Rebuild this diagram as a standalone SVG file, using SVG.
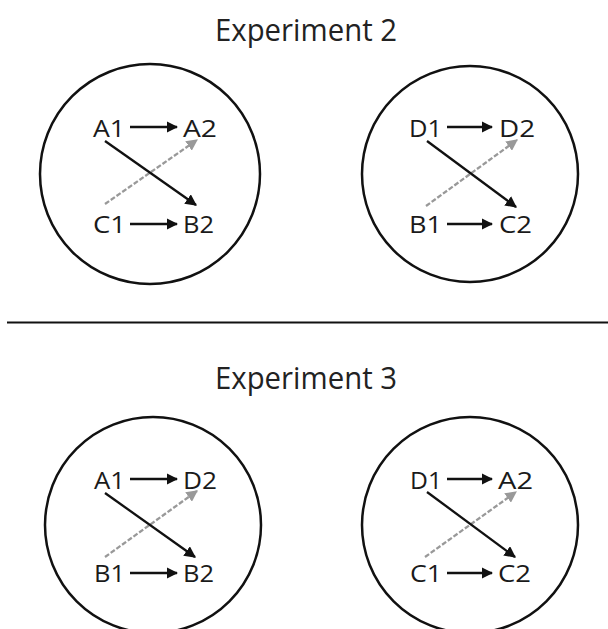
<svg xmlns="http://www.w3.org/2000/svg" width="608" height="629" viewBox="0 0 608 629">
<style>
.title{font-family:"Open Sans","Liberation Sans",sans-serif;font-size:31px;fill:#222}
.lbl{font-family:"Open Sans","Liberation Sans",sans-serif;font-size:24px;fill:#1a1a1a}
.ring{fill:none;stroke:#111;stroke-width:2.5}
.solid{stroke:#111;stroke-width:2.3;fill:none;marker-end:url(#ah)}
.dash{stroke:#999;stroke-width:2.3;stroke-dasharray:5 2;fill:none;marker-end:url(#ahg)}
</style>
<defs>
<marker id="ah" viewBox="0 0 10 10" refX="9" refY="5" markerWidth="5" markerHeight="5" orient="auto" markerUnits="strokeWidth"><path d="M0,0 L10,5 L0,10 z" fill="#111"/></marker>
<marker id="ahg" viewBox="0 0 10 10" refX="9" refY="5" markerWidth="5" markerHeight="5" orient="auto" markerUnits="strokeWidth"><path d="M0,0 L10,5 L0,10 z" fill="#999"/></marker>
</defs>
<rect width="608" height="629" fill="#fff"/>
<text class="title" x="306" y="41" text-anchor="middle" textLength="182" lengthAdjust="spacingAndGlyphs">Experiment 2</text>
<text class="title" x="306" y="389" text-anchor="middle" textLength="182" lengthAdjust="spacingAndGlyphs">Experiment 3</text>
<line x1="7" y1="322.5" x2="608" y2="322.5" stroke="#111" stroke-width="2"/>

<g id="exp2-left">
<circle class="ring" cx="150" cy="174" r="110"/>
<text class="lbl" x="93" y="137" textLength="32" lengthAdjust="spacingAndGlyphs">A1</text>
<text class="lbl" x="183" y="137" textLength="34" lengthAdjust="spacingAndGlyphs">A2</text>
<text class="lbl" x="93" y="233" textLength="33" lengthAdjust="spacingAndGlyphs">C1</text>
<text class="lbl" x="183" y="233" textLength="31" lengthAdjust="spacingAndGlyphs">B2</text>
</g>
<g id="exp2-right">
<circle class="ring" cx="470" cy="174" r="108"/>
<text class="lbl" x="409" y="137" textLength="33" lengthAdjust="spacingAndGlyphs">D1</text>
<text class="lbl" x="499" y="137" textLength="36" lengthAdjust="spacingAndGlyphs">D2</text>
<text class="lbl" x="409" y="233" textLength="33" lengthAdjust="spacingAndGlyphs">B1</text>
<text class="lbl" x="499" y="233" textLength="33" lengthAdjust="spacingAndGlyphs">C2</text>
</g>
<g id="exp3-left">
<circle class="ring" cx="153" cy="525" r="108"/>
<text class="lbl" x="94" y="489" textLength="31" lengthAdjust="spacingAndGlyphs">A1</text>
<text class="lbl" x="183" y="489" textLength="34" lengthAdjust="spacingAndGlyphs">D2</text>
<text class="lbl" x="94" y="582" textLength="31" lengthAdjust="spacingAndGlyphs">B1</text>
<text class="lbl" x="183" y="582" textLength="31" lengthAdjust="spacingAndGlyphs">B2</text>
</g>
<g id="exp3-right">
<circle class="ring" cx="470" cy="525" r="108"/>
<text class="lbl" x="410" y="489" textLength="32" lengthAdjust="spacingAndGlyphs">D1</text>
<text class="lbl" x="498" y="489" textLength="35" lengthAdjust="spacingAndGlyphs">A2</text>
<text class="lbl" x="410" y="582" textLength="32" lengthAdjust="spacingAndGlyphs">C1</text>
<text class="lbl" x="498" y="582" textLength="33" lengthAdjust="spacingAndGlyphs">C2</text>
</g>

<g id="connectors">
<line class="solid" x1="130" y1="127" x2="177" y2="127"/>
<line class="solid" x1="130" y1="224" x2="177" y2="224"/>
<line class="dash" x1="105" y1="204" x2="197" y2="140"/>
<line class="solid" x1="105" y1="141" x2="196" y2="205"/>

<line class="solid" x1="447" y1="127" x2="492" y2="127"/>
<line class="solid" x1="447" y1="224" x2="492" y2="224"/>
<line class="dash" x1="426" y1="206" x2="517" y2="140"/>
<line class="solid" x1="427" y1="141" x2="516" y2="207"/>

<line class="solid" x1="130" y1="479" x2="177" y2="479"/>
<line class="solid" x1="130" y1="573" x2="177" y2="573"/>
<line class="dash" x1="105" y1="557" x2="197" y2="491"/>
<line class="solid" x1="105" y1="493" x2="195" y2="557"/>

<line class="solid" x1="447" y1="479" x2="492" y2="479"/>
<line class="solid" x1="447" y1="573" x2="492" y2="573"/>
<line class="dash" x1="425" y1="557" x2="516" y2="492"/>
<line class="solid" x1="427" y1="492" x2="515" y2="557"/>
</g>
</svg>
